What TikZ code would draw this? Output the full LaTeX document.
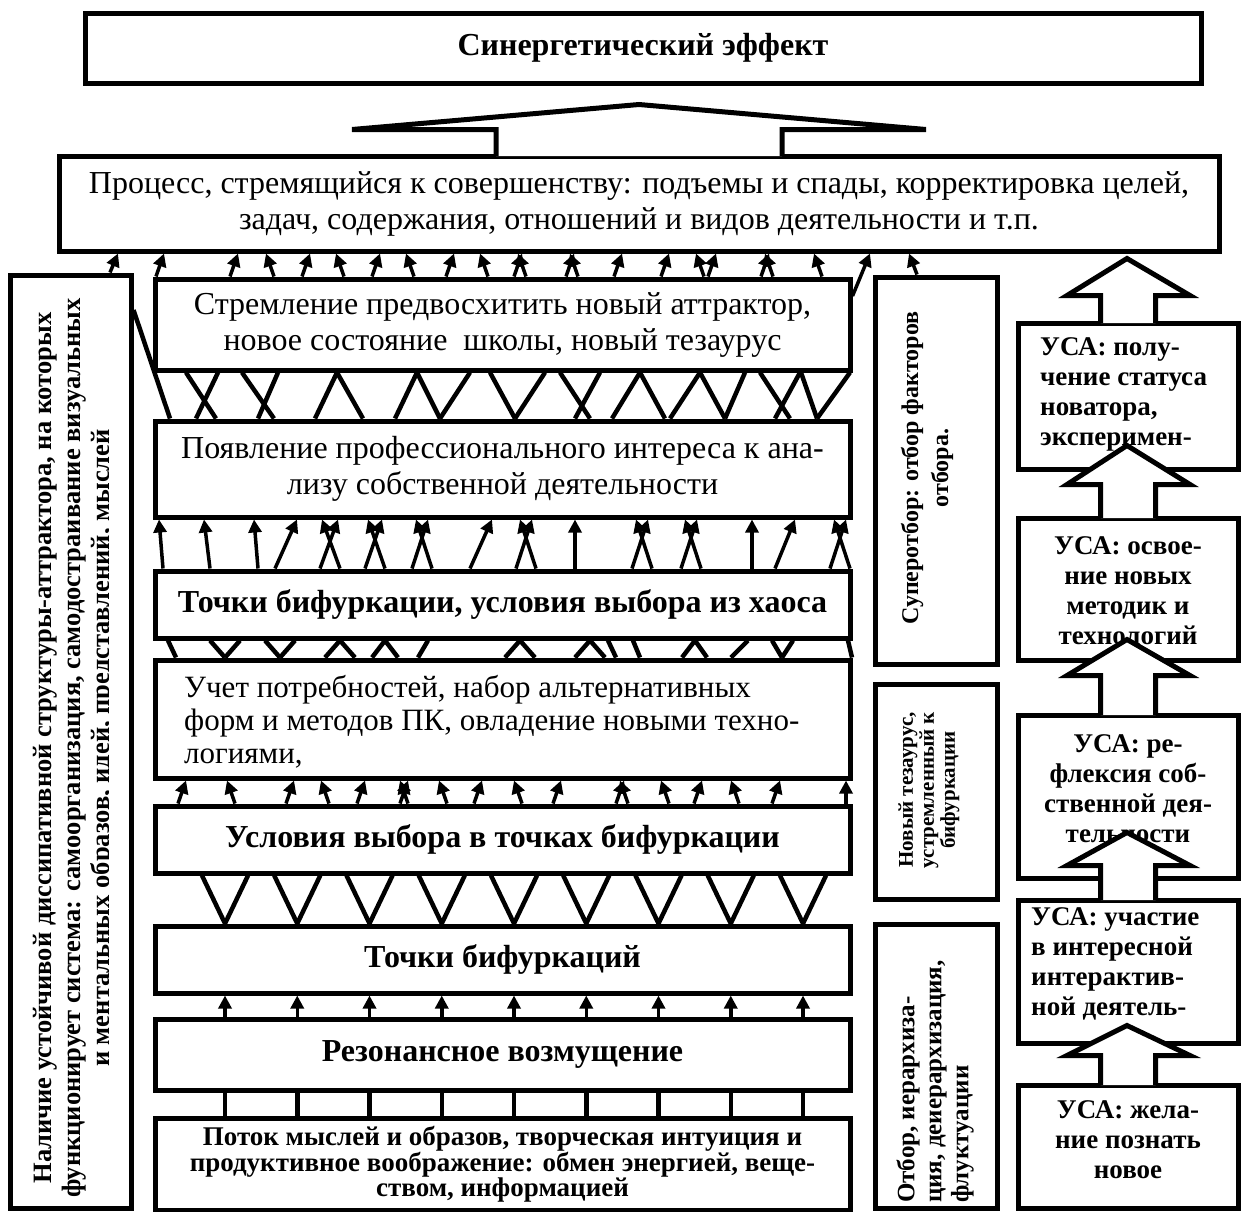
\documentclass[tikz,border=0pt]{standalone}
\usepackage{fontspec}
\setmainfont{Liberation Serif}
\usetikzlibrary{arrows.meta,calc}
\begin{document}
\begin{tikzpicture}[x=1pt,y=-1pt,
	box/.style={draw,line width=5pt,fill=white,inner sep=0pt,align=center},
	rm/.style={font=\fontsize{32}{36}\selectfont},
	bf/.style={font=\fontsize{32}{36}\selectfont\bfseries},
	usa/.style={font=\fontsize{27}{30}\selectfont\bfseries,inner sep=0pt},
	vert/.style={rotate=90,inner sep=0pt},
	sarr/.style={line width=3.5pt,-{Triangle[width=13pt,length=13pt]}},
	zz/.style={line width=4.5pt},
	fat/.style={line width=5pt,fill=white}]
				\useasboundingbox (0,0) rectangle (1242,1211);
				\fill [white] (0,0) rectangle (1242,1211);
				\node [box,bf,minimum width=1116,minimum height=70] (effect) at (643,48) {Синергетический эффект};
				\node [box,rm,minimum width=1160,minimum height=95] (proc) at (639,203.5) {Процесс, стремящийся к совершенству: подъемы и спады, корректировка целей,\\задач, содержания, отношений и видов деятельности и т.п.};
				\node [box,minimum width=121,minimum height=933] (lbox) at (70.5,741.5) {};
				\node [box,rm,minimum width=695,minimum height=91] (strem) at (502.5,324.5) {Стремление предвосхитить новый аттрактор,\\новое состояние\ \ школы, новый тезаурус};
				\node [box,rm,minimum width=695,minimum height=96] (poyav) at (502.5,469) {Появление профессионального интереса к ана-\\лизу собственной деятельности};
				\node [box,bf,minimum width=695,minimum height=67] (tochki1) at (502.5,604.5) {Точки бифуркации, условия выбора из хаоса};
				\node [box,minimum width=695,minimum height=118] (uchet) at (502.5,719) {};
				\node [box,bf,minimum width=695,minimum height=67] (uslov) at (502.5,839.5) {Условия выбора в точках бифуркации};
				\node [box,bf,minimum width=695,minimum height=67] (tochki2) at (502.5,959.5) {Точки бифуркаций};
				\node [box,bf,minimum width=695,minimum height=71] (rezon) at (502.5,1054.5) {Резонансное возмущение};
				\node [box,minimum width=695,minimum height=92,font=\fontsize{27}{25}\selectfont\bfseries] (potok) at (502.5,1164) {Поток мыслей и образов, творческая интуиция и\\продуктивное воображение: обмен энергией, веще-\\ством, информацией};
				\node [box,minimum width=122,minimum height=387] (super) at (936,470.5) {};
				\node [box,minimum width=122,minimum height=215] (novyi) at (936,791.5) {};
				\node [box,minimum width=122,minimum height=284] (otbor) at (936,1066) {};
				\node [box,minimum width=220,minimum height=146] (usa1) at (1128,396) {};
				\node [box,minimum width=220,minimum height=142] (usa2) at (1128,589) {};
				\node [box,minimum width=220,minimum height=163] (usa3) at (1128,796.5) {};
				\node [box,minimum width=220,minimum height=143] (usa4) at (1128,971.5) {};
				\node [box,minimum width=220,minimum height=123] (usa5) at (1128,1146.5) {};
				\node [align=left,anchor=west,inner sep=0pt,font=\fontsize{31}{33}\selectfont] (uchettxt) at (184,722) {Учет потребностей, набор альтернативных\\форм и методов ПК, овладение новыми техно-\\логиями,};
				% vertical captions
				\begin{scope}
					\clip (10,275) rectangle (108,1209);
					\node [vert,align=center,font=\fontsize{26.5}{29}\selectfont\bfseries] (lboxtxt) at (74,748) {Наличие устойчивой диссипативной структуры-аттрактора, на которых\\функционирует система: самоорганизация, самодостраивание визуальных\\и ментальных образов, идей, представлений, мыслей};
				\end{scope}
				\node [vert,align=center,font=\fontsize{24}{30}\selectfont\bfseries] (supertxt) at (927,468) {Суперотбор: отбор факторов\\отбора.};
				\node [vert,align=center,font=\fontsize{21}{21}\selectfont\bfseries] (novyitxt) at (929,790) {Новый тезаурус,\\устремленный к\\бифуркации};
				\node [vert,align=left,anchor=west,font=\fontsize{25}{27}\selectfont\bfseries] (otbortxt) at (935,1203) {Отбор, иерархиза-\\ция, деиерархизация,\\флуктуации};
				\node [usa,align=left,anchor=west] (usa1txt) at (1040,394) {УСА: полу-\\чение статуса\\новатора,\\эксперимен-};
				\node [usa,align=center] (usa2txt) at (1128,591) {УСА: освое-\\ние новых\\методик и\\технологий};
				\node [usa,align=center] (usa3txt) at (1128,789) {УСА: ре-\\флексия соб-\\ственной дея-\\тельности};
				\node [usa,align=left,anchor=west] (usa4txt) at (1031,964) {УСА: участие\\в интересной\\интерактив-\\ной деятель-};
				\node [usa,align=center] (usa5txt) at (1128,1140) {УСА: жела-\\ние познать\\новое};
				% arrows into the process box
				\draw [sarr] (110,0 |- lbox.north) -- (118,0 |- proc.south);
				\foreach \a/\b in {156/164,230/238,274/266,302/310,344/336,372/380,414/406,446/454,488/480,514/522,526/518,566/574,578/570,614/622,661/669,704/696,708/716,761/769,773/765,822/814}
					\draw [sarr] (\a,0 |- strem.north) -- (\b,0 |- proc.south);
				\draw [sarr] (917,0 |- super.north) -- (909,0 |- proc.south);
				\draw [sarr] (strem.east |- 0,296) -- (870,0 |- proc.south);
				\draw [zz] (lbox.east |- 0,310) -- (170,0 |- poyav.north);
				\foreach \a/\b in {186/216,218/196,242/274,278/258,337/315,337/363,417/395,417/440,470/440,490/515,545/515,560/590,600/575,640/612,640/665,700/670,700/725,745/725,760/790,800/775,801/817,850/817}
					\draw [zz] (\a,0 |- strem.south) -- (\b,0 |- poyav.north);
				\foreach \a/\b in {163/159,210/204,258/254,275/297,320/338,340/322,365/382,385/368,412/428,432/416,470/492,516/532,536/520,575/575,632/648,652/636,681/697,701/685,752/752,775/795,830/846,850/834}
					\draw [sarr] (\a,0 |- tochki1.north) -- (\b,0 |- poyav.south);
				\foreach \a/\b in {168/176,210/225,240/225,265/280,295/280,340/325,340/355,385/372,385/398,428/418,520/505,520/535,590/575,590/605,608/616,633/640,695/682,695/707,748/731,772/782,793/782,848/852}
					\draw [zz] (\a,0 |- tochki1.south) -- (\b,0 |- uchet.north);
				\foreach \a/\b in {178/186,235/227,286/294,329/321,357/365,400/408,408/400,447/439,474/482,522/514,553/561,616/624,628/620,669/661,694/702,739/731,772/780,846/846}
					\draw [sarr] (\a,0 |- uslov.north) -- (\b,0 |- uchet.south);
				\foreach \i in {0,...,8} {
					\pgfmathsetmacro\x{225+72.25*\i}
					\pgfmathsetmacro\l{\x-23}
					\pgfmathsetmacro\r{\x+23}
					\draw [zz] (\l,0 |- uslov.south) -- (\x,0 |- tochki2.north) -- (\r,0 |- uslov.south);
					\draw [sarr] (\x,0 |- rezon.north) -- (\x,0 |- tochki2.south);
					\draw [zz] (\x,0 |- potok.north) -- (\x,0 |- rezon.south);
				}
				% hollow arrows
				\draw [fat] ($(proc.north)+(-143,2.5)$) -- ($(proc.north)+(-143,-24)$) -- ($(proc.north)+(-287,-24)$) -- ($(proc.north)+(0,-49)$) -- ($(proc.north)+(287,-24)$) -- ($(proc.north)+(143,-24)$) -- ($(proc.north)+(143,2.5)$);
				\foreach \p/\n/\t/\w in {proc/usa1/5/42,usa1/usa2/-26/13,usa2/usa3/-23/13,usa3/usa4/-48/-15,usa4/usa5/-20/10}
					\draw [fat] ($(\n.north)+(-27.5,2.5)$) -- ($(\n.north |- \p.south)+(-27.5,\w)$) -- ($(\n.north |- \p.south)+(-61,\w)$) -- ($(\n.north |- \p.south)+(-1,\t)$) -- ($(\n.north |- \p.south)+(62,\w)$) -- ($(\n.north |- \p.south)+(27.5,\w)$) -- ($(\n.north)+(27.5,2.5)$);
\end{tikzpicture}
\end{document}
